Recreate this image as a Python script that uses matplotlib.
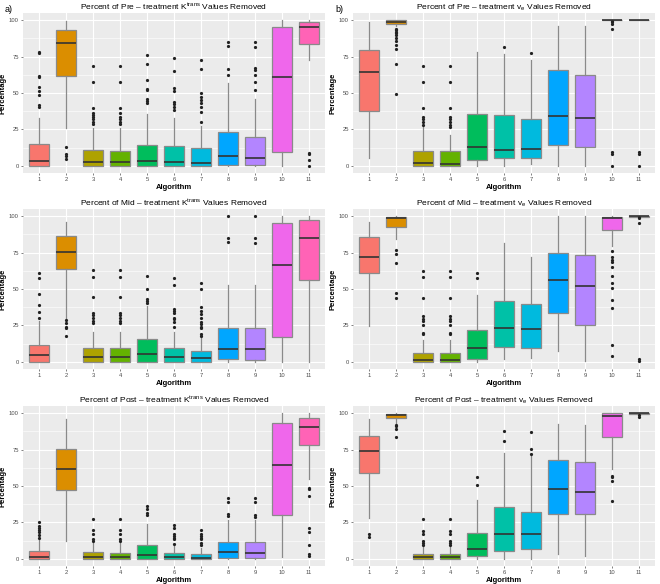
import matplotlib
matplotlib.use("Agg")
import matplotlib.pyplot as plt
import numpy as np

plt.rcParams['font.family'] = ['Liberation Sans', 'DejaVu Sans']
plt.rcParams['mathtext.fontset'] = 'custom'
plt.rcParams['mathtext.rm'] = 'Liberation Sans'
plt.rcParams['mathtext.it'] = 'Liberation Sans:italic'

algorithms = [str(i) for i in range(1, 12)]
colors = ["#F8766D", "#DB8E00", "#AEA200", "#64B200", "#00BD5C", "#00C1A7",
          "#00BADE", "#00A6FF", "#B385FF", "#EF67EB", "#FF63B6"]

# ---- Panel: Pre-treatment Ktrans ----
pre_k_q1 = [0, 61.6, 0, 0, 0, 0, 0, 0.5, 0.5, 9.2, 83.7]
pre_k_med = [3.2, 84.1, 2.3, 2.3, 3.0, 2.3, 1.8, 6.7, 5.1, 60.9, 95.2]
pre_k_q3 = [15.2, 93.1, 11.0, 10.3, 14.0, 13.8, 12.0, 23.4, 19.8, 95.4, 98.9]
pre_k_wlo = [0, 25.7, 0, 0, 0, 0, 0, 0, 0, 0, 72.4]
pre_k_whi = [32.6, 99.3, 26.2, 26.2, 35.4, 33.1, 27.0, 56.8, 45.7, 100, 100]
pre_k_out = [[78, 77.5, 61.4, 60.7, 53.8, 51.5, 48.7, 41.8, 40.2],
             [13.1, 8.0, 6.7, 4.4],
             [68.3, 57.9, 40.0, 36.1, 35.0, 33.3, 32.0, 29.9, 28.7],
             [68.3, 57.9, 40.0, 36.0, 33.8, 32.2, 30.1, 28.7],
             [76.1, 70.1, 58.9, 52.6, 52.0, 46.2, 44.8, 43.0],
             [73.8, 64.8, 53.1, 51.5, 43.7, 42.3, 40.2, 38.4],
             [72.9, 66.4, 50.3, 47.1, 45.3, 43.0, 40.2, 36.8, 30.3],
             [84.8, 82.0, 66.7, 62.5],
             [84.8, 81.6, 67.1, 66.0, 62.5, 57.5, 52.2],
             [],
             [9.0, 7.8, 3.9, 0.0]]

# ---- Panel: Pre-treatment ve ----
pre_v_q1 = [37.7, 97.5, 0, 0, 4.1, 5.0, 5.3, 14.2, 13.2, 100, 100]
pre_v_med = [64.2, 99.0, 2.0, 1.4, 12.6, 11.0, 11.6, 34.5, 32.6, 100, 100]
pre_v_q3 = [79.5, 100, 10.3, 10.3, 35.4, 34.9, 32.4, 65.5, 62.3, 100, 100]
pre_v_wlo = [5.5, 96.0, 0, 0, 0, 0, 1.1, 0, 0, 100, 100]
pre_v_whi = [98.9, 100, 26.3, 21.2, 78.1, 76.9, 72.4, 96.3, 95.9, 100, 100]
pre_v_out = [[],
             [94.0, 93.0, 92.0, 91.0, 90.0, 88.0, 86.0, 83.0, 80.0, 69.6, 49.0],
             [68.5, 57.8, 40.0, 33.8, 32.4, 30.4, 27.9],
             [68.5, 57.8, 40.0, 33.8, 32.4, 30.4, 27.9, 26.3],
             [],
             [81.7],
             [77.6],
             [],
             [],
             [99.3, 98.6, 97.7, 94.3, 9.1, 8.0, 0.0],
             [9.1, 8.0, 0.0]]

# ---- Panel: Mid-treatment Ktrans ----
mid_k_q1 = [0, 63.8, 0, 0, 0, 0, 0, 1.6, 1.1, 17.2, 56.5]
mid_k_med = [4.6, 75.7, 3.0, 3.0, 5.0, 3.0, 2.3, 8.7, 8.5, 66.6, 85.1]
mid_k_q3 = [11.7, 86.3, 9.2, 9.2, 15.6, 9.2, 7.1, 22.9, 22.9, 95.4, 97.3]
mid_k_wlo = [0, 30.4, 0, 0, 0, 0, 0, 0, 0, 0, 0]
mid_k_whi = [28.0, 96.3, 20.6, 20.6, 38.0, 20.6, 16.0, 52.9, 52.9, 100, 100]
mid_k_out = [[60.9, 57.4, 46.5, 38.9, 33.9, 30.0],
             [28.6, 26.3, 24.0, 23.1, 17.8],
             [62.9, 58.4, 44.6, 33.2, 32.0, 30.4, 28.1, 26.3],
             [62.9, 58.4, 44.6, 33.2, 32.0, 30.4, 28.1, 26.3],
             [59.0, 49.9, 43.0, 41.9, 40.7],
             [57.4, 52.9, 36.2, 34.6, 33.2, 30.4, 29.3, 27.0, 24.0],
             [54.0, 49.9, 37.3, 34.6, 32.7, 30.0, 27.0, 25.9, 24.0, 22.9, 19.0, 17.4],
             [100, 85.4, 82.4],
             [100, 84.9, 81.9],
             [],
             []]

# ---- Panel: Mid-treatment ve ----
mid_v_q1 = [61.0, 92.9, 0, 0, 2.1, 10.3, 9.3, 33.5, 25.3, 90.7, 99.6]
mid_v_med = [72.2, 98.6, 0.9, 0.9, 9.6, 23.5, 22.6, 56.5, 52.4, 99.1, 100]
mid_v_q3 = [85.9, 99.5, 5.9, 5.9, 21.6, 41.7, 39.4, 74.5, 73.3, 99.8, 100]
mid_v_wlo = [24.4, 84.3, 0, 0, 0, 2.1, 2.7, 7.3, 0.7, 79.7, 99.5]
mid_v_whi = [96.4, 100, 14.8, 14.8, 45.6, 81.8, 72.0, 100, 100, 100, 100]
mid_v_out = [[],
             [76.8, 74.0, 67.7, 47.4, 43.7],
             [62.6, 58.3, 44.0, 31.4, 29.6, 27.8, 25.5, 20.0, 19.4],
             [62.6, 58.3, 44.0, 31.4, 29.6, 27.8, 25.5, 20.0, 19.4],
             [61.0, 57.4],
             [],
             [],
             [],
             [],
             [75.9, 71.8, 70.2, 68.3, 64.9, 59.2, 54.0, 50.8, 42.6, 36.9, 11.4, 3.9],
             [99.3, 98.6, 95.4, 1.6, 0.5]]

# ---- Panel: Post-treatment Ktrans ----
post_k_q1 = [0, 47.2, 0, 0, 0, 0, 0, 0.2, 0.2, 29.8, 78.4]
post_k_med = [1.4, 61.9, 1.1, 1.1, 2.8, 1.1, 0.5, 4.8, 4.1, 64.2, 90.8]
post_k_q3 = [5.5, 75.7, 4.6, 4.1, 9.6, 4.1, 3.2, 11.5, 11.5, 93.6, 96.8]
post_k_wlo = [0, 12.2, 0, 0, 0, 0, 0, 0, 0, 1.4, 55.0]
post_k_whi = [13.0, 96.3, 10.5, 10.5, 23.6, 9.0, 7.6, 26.4, 26.4, 100, 100]
post_k_out = [[25.2, 22.5, 21.3, 19.5, 18.3, 16.3, 14.5],
              [],
              [27.1, 19.5, 17.2, 13.3, 12.2],
              [27.1, 19.5, 17.2, 13.3, 12.2],
              [36.2, 34.4, 31.7, 29.8],
              [22.9, 21.3, 16.7, 15.6, 14.4, 13.3, 9.9],
              [19.7, 16.7, 15.6, 14.4, 13.3, 11.0, 9.2],
              [41.7, 39.0, 30.5, 29.4],
              [41.7, 39.0, 30.0, 28.9],
              [],
              [48.9, 47.7, 43.1, 21.3, 18.3, 9.2, 3.4, 1.8]]

# ---- Panel: Post-treatment ve ----
post_v_q1 = [59.2, 96.6, 0, 0, 2.0, 5.5, 6.4, 30.8, 31.0, 83.4, 99.6]
post_v_med = [73.8, 98.9, 1.1, 1.1, 6.8, 16.9, 17.3, 48.1, 45.8, 98.2, 100]
post_v_q3 = [84.5, 99.8, 3.2, 3.2, 17.8, 35.5, 32.3, 67.7, 66.7, 100, 100]
post_v_wlo = [28.0, 93.5, 0, 0, 0, 0, 0, 3.0, 1.8, 62.0, 99.3]
post_v_whi = [96.4, 100, 8.0, 8.0, 40.1, 72.7, 70.8, 92.7, 91.8, 100, 100]
post_v_out = [[16.9, 15.0],
              [92.0, 91.3, 89.1, 83.8],
              [27.1, 18.9, 16.9, 12.1, 10.5, 9.3],
              [27.1, 18.9, 16.9, 12.1, 10.5, 9.3],
              [56.5, 51.0],
              [87.9, 80.9],
              [87.2, 75.4, 72.0],
              [],
              [],
              [57.2, 56.0, 53.1, 39.6],
              [98.9, 97.5]]

panels = [
    ("a)", r"Percent of Pre – treatment K$^{\mathrm{trans}}$ Values Removed",
     pre_k_q1, pre_k_med, pre_k_q3, pre_k_wlo, pre_k_whi, pre_k_out),
    ("b)", r"Percent of Pre – treatment v$_{\mathrm{e}}$ Values Removed",
     pre_v_q1, pre_v_med, pre_v_q3, pre_v_wlo, pre_v_whi, pre_v_out),
    ("", r"Percent of Mid – treatment K$^{\mathrm{trans}}$ Values Removed",
     mid_k_q1, mid_k_med, mid_k_q3, mid_k_wlo, mid_k_whi, mid_k_out),
    ("", r"Percent of Mid – treatment v$_{\mathrm{e}}$ Values Removed",
     mid_v_q1, mid_v_med, mid_v_q3, mid_v_wlo, mid_v_whi, mid_v_out),
    ("", r"Percent of Post – treatment K$^{\mathrm{trans}}$ Values Removed",
     post_k_q1, post_k_med, post_k_q3, post_k_wlo, post_k_whi, post_k_out),
    ("", r"Percent of Post – treatment v$_{\mathrm{e}}$ Values Removed",
     post_v_q1, post_v_med, post_v_q3, post_v_wlo, post_v_whi, post_v_out),
]

W, H = 660, 584
fig = plt.figure(figsize=(W / 100, H / 100), dpi=100)
lefts = [23, 353]
rows = [(13, 173), (209, 369), (406, 566)]
pw = 302

for i, (tag, title, q1, med, q3, wlo, whi, outs) in enumerate(panels):
    r, c = divmod(i, 2)
    top, bot = rows[r]
    ax = fig.add_axes([lefts[c] / W, 1 - bot / H, pw / W, (bot - top) / H])
    ax.set_facecolor('#EBEBEB')
    for s in ax.spines.values():
        s.set_visible(False)
    stats = []
    for k in range(len(algorithms)):
        stats.append(dict(med=med[k], q1=q1[k], q3=q3[k], whislo=wlo[k],
                          whishi=whi[k], fliers=outs[k], label=algorithms[k]))
    pos = np.arange(1, len(algorithms) + 1)
    bp = ax.bxp(stats, positions=pos, widths=0.75, patch_artist=True,
                showcaps=False,
                boxprops=dict(edgecolor='#8a8a8a', linewidth=0.9),
                medianprops=dict(color='#333333', linewidth=1.2),
                whiskerprops=dict(color='#8a8a8a', linewidth=0.9),
                flierprops=dict(marker='o', markersize=1.3, markerfacecolor='#222222',
                                markeredgecolor='#222222', linestyle='none'),
                zorder=3)
    for patch, col in zip(bp['boxes'], colors):
        patch.set_facecolor(col)
    ax.set_xlim(0.4, 11.6)
    ax.set_ylim(-5, 105)
    ax.set_yticks([0, 25, 50, 75, 100])
    ax.set_yticks([12.5, 37.5, 62.5, 87.5], minor=True)
    ax.set_xticks(pos)
    ax.set_xticklabels(algorithms)
    ax.grid(which='major', color='white', linewidth=0.8, zorder=0)
    ax.grid(which='minor', axis='y', color='white', linewidth=0.4, zorder=0)
    ax.set_axisbelow(True)
    ax.tick_params(axis='both', which='major', labelsize=4.2, colors='#4d4d4d',
                   length=1.5, width=0.5, pad=1.5, labelcolor='#4d4d4d')
    ax.tick_params(axis='both', which='minor', length=0)
    ax.set_xlabel('Algorithm', fontsize=5.5, fontweight='bold', labelpad=1.5)
    ax.set_ylabel('Percentage', fontsize=5.5, fontweight='bold', labelpad=2)
    ax.set_title(title, fontsize=6.0, pad=2.0)
    if tag:
        fig.text((lefts[c] - 18) / W, 1 - 9 / H, tag, fontsize=6.5, va='center', ha='left')

fig.savefig('out.png', dpi=100)
